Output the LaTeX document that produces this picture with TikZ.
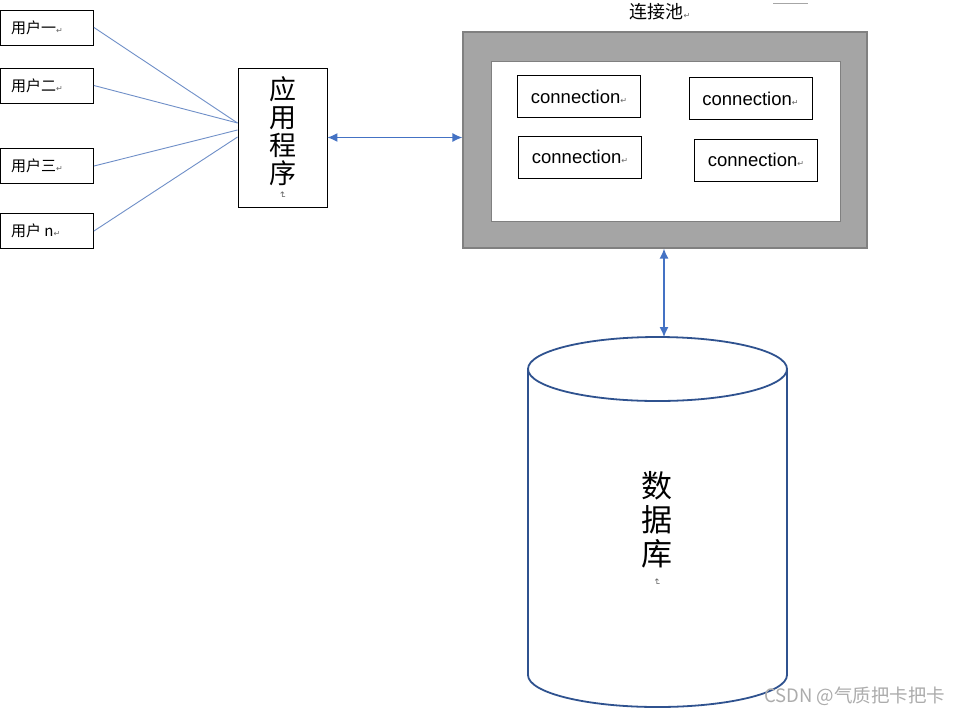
\documentclass[tikz,border=0pt]{standalone}
\usepackage{fontspec}
\setmainfont{Liberation Sans}
\newfontfamily\cjk{Noto Sans CJK SC}
\newfontfamily\djv{DejaVu Sans}
\usetikzlibrary{arrows.meta,calc}
\definecolor{lineblue}{HTML}{6F8FC8}
\definecolor{arrowblue}{HTML}{4472C4}
\definecolor{dbblue}{HTML}{2F528F}
\definecolor{poolgray}{HTML}{A5A5A5}
\definecolor{poolborder}{HTML}{808080}
\newcommand\parmark{{\djv\fontsize{8}{8}\selectfont\color{gray!80!black}↵}}
\newcommand\vparmark{{\djv\fontsize{9}{9}\selectfont\color{gray!80!black}\rotatebox[origin=c]{-90}{↵}}}
\newcommand\ulabel[1]{\makebox[82pt][l]{\hspace{5pt}#1\parmark}}
\tikzset{
  ubox/.style={draw=black, line width=0.9pt, minimum width=93pt, minimum height=35pt, inner sep=0pt,
    font=\cjk\fontsize{15}{16}\selectfont},
  cbox/.style={draw=black, line width=0.9pt, minimum width=123pt, minimum height=42pt, inner sep=0pt,
    font=\fontsize{18.5}{20}\selectfont},
  uline/.style={draw=lineblue, line width=0.9pt},
  biarrow/.style={draw=arrowblue, line width=1.3pt, {Latex[length=10pt,width=9pt]}-{Latex[length=10pt,width=9pt]}},
}
\begin{document}
\begin{tikzpicture}[x=1pt,y=-1pt]
\useasboundingbox (0,0) rectangle (965,715);
\fill[white] (0,0) rectangle (965,715);

% user boxes
\node[ubox] (u1) at (47,27.5) {\ulabel{用户一}};
\node[ubox] (u2) at (47,85.5) {\ulabel{用户二}};
\node[ubox] (u3) at (47,166) {\ulabel{用户三}};
\node[ubox] (u4) at (47,231) {\ulabel{用户 n}};

% application
\node[draw=black, line width=0.9pt, minimum width=89pt, minimum height=139pt, inner sep=0pt] (app) at (282.5,137.5) {};
\node[align=center, inner sep=0pt, font=\cjk\fontsize{27}{28}\selectfont] (apptext) at (282.5,138)
  {应\\用\\程\\序\\[-13pt]\vparmark};

\draw[uline] (u1.east) -- ([yshift=14.5pt]app.west);
\draw[uline] (u2.east) -- ([yshift=14.5pt]app.west);
\draw[uline] (u3.east) -- ([yshift=7.5pt]app.west);
\draw[uline] (u4.east) -- ([yshift=0.5pt]app.west);

% connection pool
\node[draw=poolborder, line width=1.2pt, fill=poolgray, minimum width=404pt, minimum height=216pt, inner sep=0pt] (pool) at (665,140) {};
\node[draw=poolborder, line width=1pt, fill=white, minimum width=349pt, minimum height=160pt, inner sep=0pt] (inner) at (665.5,141) {};
\node[font=\cjk\fontsize{18}{20}\selectfont] (pooltitle) at (660,12) {连接池\parmark};
\node[cbox] (c1) at (579,96.5) {connection\parmark};
\node[cbox] (c2) at (750.5,98.5) {connection\parmark};
\node[cbox] (c3) at (580,157) {connection\parmark};
\node[cbox] (c4) at (756,160) {connection\parmark};

\coordinate (mark) at (790,3);
\draw[gray!70, line width=0.8pt] ([xshift=-17pt]mark) -- ([xshift=18pt]mark);

\draw[biarrow] (app.east) -- (app.east -| pool.west);

% database cylinder
\coordinate (dbtop) at (664,337);
\draw[dbblue, line width=1.8pt, fill=white]
  (528,369) -- (528,675) arc[start angle=180, end angle=360, x radius=129.5pt, y radius=32pt]
  -- (787,369);
\draw[dbblue, line width=1.8pt] (657.5,369) ellipse[x radius=129.5pt, y radius=32pt];
\node[align=center, inner sep=0pt, font=\cjk\fontsize{31}{34}\selectfont] (db) at (657,529)
  {数\\据\\库\\[-14pt]\vparmark};

\draw[biarrow] (dbtop |- pool.south) -- (dbtop);

% watermark
\node[anchor=east, text=gray!65, font=\cjk\fontsize{18.5}{19}\selectfont] (wm) at (949,696) {CSDN @气质把卡把卡};
\end{tikzpicture}
\end{document}
